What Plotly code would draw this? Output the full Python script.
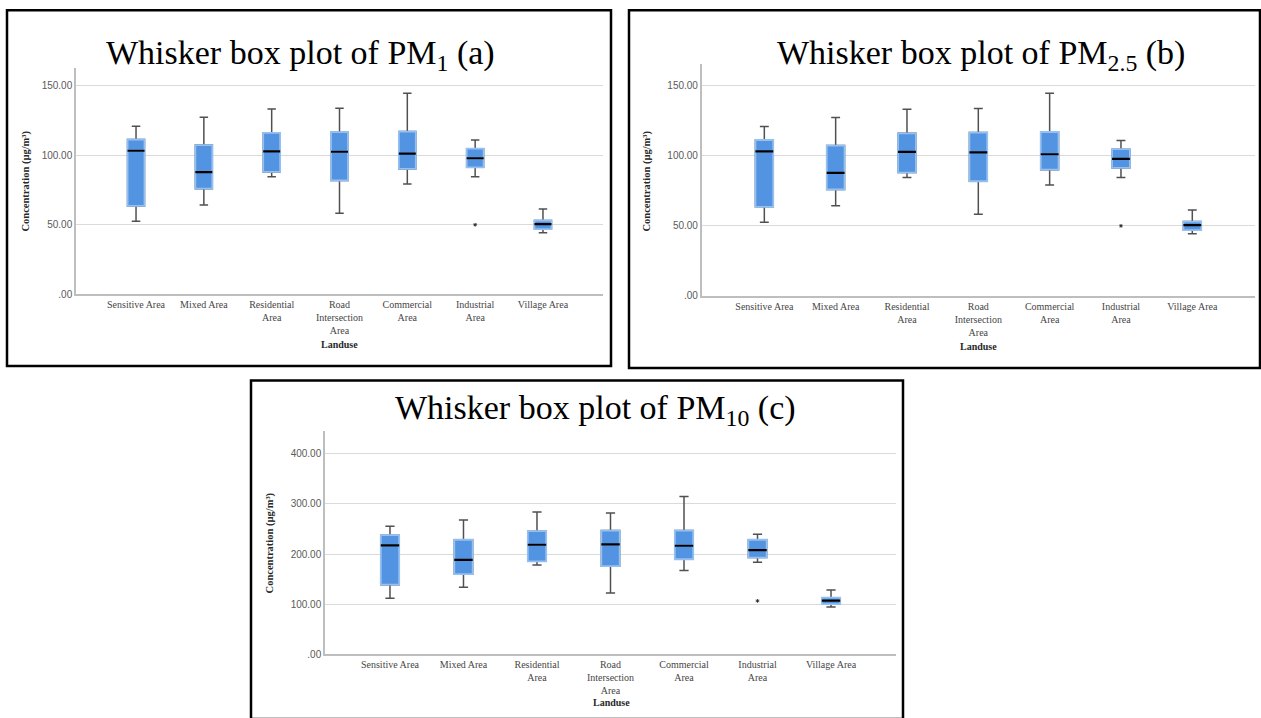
import plotly.graph_objects as go

# ---------------- data ----------------
categories = ["Sensitive Area", "Mixed Area", "Residential<br>Area",
              "Road<br>Intersection<br>Area", "Commercial<br>Area",
              "Industrial<br>Area", "Village Area"]

# PM1 (a)
pm1_low = [52.6, 64.3, 84.5, 58.3, 79.3, 84.5, 44.3]
pm1_q1 = [63.6, 76.0, 88.1, 81.9, 90.2, 91.4, 46.9]
pm1_med = [103.3, 87.9, 102.9, 102.6, 101.2, 97.9, 50.5]
pm1_q3 = [111.4, 107.4, 116.2, 116.7, 117.1, 104.8, 53.1]
pm1_high = [121.0, 127.4, 133.3, 134.0, 144.8, 111.0, 61.4]
pm1_out_cat = ["Industrial<br>Area"]
pm1_out_val = [50.0]

# PM2.5 (b)
pm25_low = [52.6, 64.3, 84.5, 58.3, 79.3, 84.5, 44.3]
pm25_q1 = [63.6, 76.0, 88.1, 81.9, 90.2, 91.4, 46.9]
pm25_med = [103.3, 87.9, 102.9, 102.6, 101.2, 97.9, 50.5]
pm25_q3 = [111.4, 107.4, 116.2, 116.7, 117.1, 104.8, 53.1]
pm25_high = [121.0, 127.4, 133.3, 134.0, 144.8, 111.0, 61.4]
pm25_out_cat = ["Industrial<br>Area"]
pm25_out_val = [50.0]

# PM10 (c)
pm10_low = [112.0, 133.8, 178.6, 122.6, 167.4, 183.9, 94.9]
pm10_q1 = [139.1, 160.1, 185.8, 176.0, 189.8, 193.1, 100.2]
pm10_med = [217.5, 188.5, 218.8, 219.4, 216.8, 208.2, 107.4]
pm10_q3 = [237.9, 228.7, 245.8, 247.1, 247.1, 228.7, 113.3]
pm10_high = [255.7, 268.2, 284.0, 282.0, 315.0, 239.9, 128.5]
pm10_out_cat = ["Industrial<br>Area"]
pm10_out_val = [106.8]

ticks_small = [0, 50, 100, 150]
ticks_small_text = [".00", "50.00", "100.00", "150.00"]
ticks_big = [0, 100, 200, 300, 400]
ticks_big_text = [".00", "100.00", "200.00", "300.00", "400.00"]

titles = ["Whisker box plot of PM<sub>1</sub> (a)",
          "Whisker box plot of PM<sub>2.5</sub> (b)",
          "Whisker box plot of PM<sub>10</sub> (c)"]
y_title = "Concentration (µg/m³)"
x_title = "Landuse"

# ---------------- styling ----------------
W, H = 1261, 718
BOX_FILL = "rgb(82,148,226)"
BOX_EDGE = "rgb(150,192,240)"
WHISK = "rgb(80,80,80)"
GRID = "rgb(218,218,218)"
AXLINE = "rgb(190,190,190)"
SERIF = "Liberation Serif, Times New Roman, serif"
SANS = "Liberation Sans, Arial, sans-serif"

fig = go.Figure()


def px_x(p):
    return p / W


def px_y(p):
    return 1 - p / H


panels = [
    dict(low=pm1_low, q1=pm1_q1, med=pm1_med, q3=pm1_q3, high=pm1_high,
         oc=pm1_out_cat, ov=pm1_out_val, xs="x", ys="y"),
    dict(low=pm25_low, q1=pm25_q1, med=pm25_med, q3=pm25_q3, high=pm25_high,
         oc=pm25_out_cat, ov=pm25_out_val, xs="x2", ys="y2"),
    dict(low=pm10_low, q1=pm10_q1, med=pm10_med, q3=pm10_q3, high=pm10_high,
         oc=pm10_out_cat, ov=pm10_out_val, xs="x3", ys="y3"),
]

BW = 0.25
for p in panels:
    # whiskers (full box underneath)
    fig.add_trace(go.Box(x=categories, q1=p["q1"], median=p["med"], q3=p["q3"],
                         lowerfence=p["low"], upperfence=p["high"],
                         width=BW, whiskerwidth=0.5, fillcolor=BOX_FILL,
                         line=dict(color=WHISK, width=1.5),
                         xaxis=p["xs"], yaxis=p["ys"], showlegend=False,
                         hoverinfo="skip"))
    # box body
    fig.add_trace(go.Box(x=categories, q1=p["q1"], median=p["med"], q3=p["q3"],
                         lowerfence=p["q1"], upperfence=p["q3"],
                         width=BW, whiskerwidth=0, fillcolor=BOX_FILL,
                         line=dict(color=BOX_EDGE, width=1.8),
                         xaxis=p["xs"], yaxis=p["ys"], showlegend=False,
                         hoverinfo="skip"))
    # median line
    fig.add_trace(go.Box(x=categories, q1=p["med"], median=p["med"], q3=p["med"],
                         lowerfence=p["med"], upperfence=p["med"],
                         width=BW, whiskerwidth=0, fillcolor="black",
                         line=dict(color="black", width=2.2),
                         xaxis=p["xs"], yaxis=p["ys"], showlegend=False,
                         hoverinfo="skip"))
    # outlier
    fig.add_trace(go.Scatter(x=p["oc"], y=p["ov"], mode="markers",
                             marker=dict(symbol="asterisk-open", size=3,
                                         color="rgb(50,50,50)",
                                         line=dict(color="rgb(50,50,50)", width=1)),
                             xaxis=p["xs"], yaxis=p["ys"], showlegend=False,
                             hoverinfo="skip"))

axis_common_x = dict(type="category", showgrid=False, showline=True,
                     linecolor=AXLINE, linewidth=1.5, ticks="",
                     tickfont=dict(family=SERIF, size=10, color="rgb(70,70,70)"),
                     zeroline=False, categoryorder="array",
                     categoryarray=categories)
axis_common_y = dict(showgrid=True, gridcolor=GRID, gridwidth=1, showline=True,
                     linecolor=AXLINE, linewidth=1.5, ticks="", zeroline=False,
                     tickfont=dict(family=SANS, size=10, color="rgb(90,90,90)"))

# plot-area pixel boxes: (left, right, top, bottom)
areas = [(76, 603, 69, 296.7), (701.7, 1255, 65, 298.3), (325, 896, 435, 660)]
xranges = [[-0.885, 6.885], [-0.878, 6.879], [-0.884, 6.884]]
yranges = [[0, 162.6], [0, 165.4], [0, 444.8]]
ytv = [(ticks_small, ticks_small_text), (ticks_small, ticks_small_text),
       (ticks_big, ticks_big_text)]

layout = dict(width=W, height=H, margin=dict(l=0, r=0, t=0, b=0),
              paper_bgcolor="white", plot_bgcolor="white",
              boxmode="overlay", showlegend=False)
for i, (l, r, t, b) in enumerate(areas):
    sfx = "" if i == 0 else str(i + 1)
    layout["xaxis" + sfx] = dict(axis_common_x, domain=[px_x(l), px_x(r)],
                                 range=xranges[i], anchor="y" + sfx)
    layout["yaxis" + sfx] = dict(axis_common_y, domain=[px_y(b), px_y(t)],
                                 range=yranges[i], anchor="x" + sfx,
                                 tickvals=ytv[i][0], ticktext=ytv[i][1])
fig.update_layout(**layout)

# panel frames
frames = [(7, 10.3, 611, 369.2), (629, 10.3, 1260, 371), (251, 383.8, 903, 725)]
for x0, y0, x1, y1 in frames:
    fig.add_shape(type="rect", xref="paper", yref="paper",
                  x0=px_x(x0), x1=px_x(x1), y0=px_y(y1), y1=px_y(y0),
                  line=dict(color="black", width=2.5), layer="above")

# titles
title_pos = [(300, 55), (981, 55), (595, 413)]
for txt, (cx, cy) in zip(titles, title_pos):
    fig.add_annotation(text=txt, xref="paper", yref="paper", x=px_x(cx), y=px_y(cy),
                       xanchor="center", yanchor="middle", showarrow=False,
                       font=dict(family=SERIF, size=34, color="black"))

# axis titles
ytitle_pos = [(26, 183), (647, 182), (270, 548)]
for cx, cy in ytitle_pos:
    fig.add_annotation(text="<b>" + y_title + "</b>", xref="paper", yref="paper",
                       x=px_x(cx), y=px_y(cy), textangle=-90, showarrow=False,
                       xanchor="center", yanchor="middle",
                       font=dict(family=SERIF, size=10.5, color="rgb(40,40,40)"))
xtitle_pos = [(339, 347), (978, 349), (611, 708)]
for cx, cy in xtitle_pos:
    fig.add_annotation(text="<b>" + x_title + "</b>", xref="paper", yref="paper",
                       x=px_x(cx), y=px_y(cy), showarrow=False,
                       xanchor="center", yanchor="middle",
                       font=dict(family=SERIF, size=10, color="rgb(40,40,40)"))

fig.write_html("out.html", config={"displayModeBar": False},
               post_script="document.body.style.margin='0px';document.body.style.overflow='hidden';")
